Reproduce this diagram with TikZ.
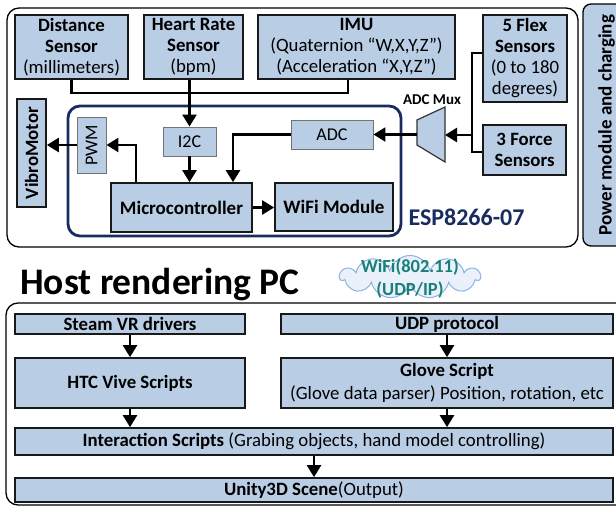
\documentclass[tikz,border=0pt]{standalone}
\usepackage{fontspec}
\setmainfont{Carlito}
\usepackage{graphicx}
\usetikzlibrary{arrows.meta,shapes.symbols,calc}

\definecolor{boxblue}{RGB}{185,205,229}
\definecolor{espnavy}{RGB}{24,44,96}
\definecolor{wifiteal}{RGB}{24,128,120}
\definecolor{cloudfill}{RGB}{234,241,251}
\definecolor{cloudline}{RGB}{140,178,225}

\tikzset{
  blk/.style={draw=black!90, line width=1.7pt, fill=boxblue, inner sep=0pt,
    align=center, font=\fontsize{18.8}{21}\selectfont},
  sub/.style={draw=black!55, line width=0.9pt, fill=boxblue, inner sep=0pt,
    align=center, font=\fontsize{18}{20}\selectfont},
  wire/.style={line width=2.4pt, draw=black},
  arr/.style={wire, -{Triangle[width=14pt,length=12pt]}},
  frame/.style={draw=black, line width=1.3pt, rounded corners=12pt},
}

\begin{document}
\begin{tikzpicture}[x=1pt,y=-1pt]
\useasboundingbox (0,0) rectangle (616,506);
\clip (0,0) rectangle (616,506);

% ---------------- glove hardware ----------------
\draw[frame] (7,8) rectangle (578,247);
\node[draw=black, line width=1.3pt, fill=boxblue, rounded corners=8pt,
      minimum width=47pt, minimum height=242pt, inner sep=0pt] (power) at (606.5,125)
      {\rotatebox{90}{\fontsize{19}{19}\selectfont\bfseries Power module and charging}};

\node[blk, minimum width=113pt, minimum height=64pt] (dist) at (71.5,47)
  {\textbf{Distance}\\\textbf{Sensor}\\(millimeters)};
\node[blk, minimum width=99pt, minimum height=64pt] (heart) at (193.5,47)
  {\textbf{Heart Rate}\\\textbf{Sensor}\\(bpm)};
\node[blk, minimum width=197pt, minimum height=64pt] (imu) at (356.5,47)
  {\textbf{IMU}\\(Quaternion “W,X,Y,Z”)\\(Acceleration “X,Y,Z”)};
\node[blk, minimum width=84pt, minimum height=87pt] (flex) at (525,58.5)
  {\textbf{5 Flex}\\\textbf{Sensors}\\(0 to 180\\degrees)};
\node[blk, minimum width=83pt, minimum height=50pt] (force) at (524.5,150)
  {\textbf{3 Force}\\\textbf{Sensors}};
\node[blk, minimum width=29pt, minimum height=108pt] (vibro) at (31.5,153)
  {\rotatebox{90}{\bfseries VibroMotor}};

% ESP8266 module
\draw[draw=espnavy, line width=2.8pt, rounded corners=12pt] (68,106) rectangle (401,236);
\node[anchor=west, font=\fontsize{24}{24}\selectfont\bfseries, text=espnavy] (esplabel)
  at (405,217) {ESP8266-07};

\node[sub, minimum width=29pt, minimum height=56pt] (pwm) at (91.5,145) {\rotatebox{90}{PWM}};
\node[sub, minimum width=53pt, minimum height=29pt] (i2c) at (189.5,141.5) {I2C};
\node[sub, minimum width=82pt, minimum height=29pt] (adc) at (332,134.5) {ADC};
\node[blk, minimum width=141pt, minimum height=49pt, font=\fontsize{19}{21}\selectfont\bfseries]
  (micro) at (181.5,207.5) {Microcontroller};
\node[blk, minimum width=118pt, minimum height=48pt, font=\fontsize{19}{21}\selectfont\bfseries]
  (wifi) at (334,207) {WiFi Module};

% ADC multiplexer
\draw[fill=boxblue, draw=black!80, line width=1.2pt]
  (417,120) -- (445,107) -- (445,162) -- (417,145) -- cycle;
\coordinate (muxL) at (417,134.5);
\coordinate (muxR) at (445,135);
\node[font=\fontsize{15}{15}\selectfont\bfseries] (muxlabel) at (432,100) {ADC Mux};

% sensor wiring
\coordinate (bus) at (348,93);
\draw[wire] (dist.south) |- (bus) -- (imu.south -| bus);
\draw[arr] (heart.south -| i2c.north) -- (i2c.north);
\draw[arr] (i2c.south) -- (i2c.south |- micro.north);
\draw[arr] (adc.west) -| ([xshift=51.5pt]micro.north);
\draw[arr] ([xshift=-45.5pt]micro.north) |- (pwm.east);
\draw[arr] (pwm.west) -- (pwm.west -| vibro.east);
\draw[arr] (micro.east) -- (micro.east -| wifi.west);
\draw[arr] (muxL) -- (adc.east |- muxL);
\coordinate (junc) at (472,135);
\draw[wire] ([yshift=5.5pt]flex.west) -| (junc);
\draw[wire] ([yshift=-2pt]force.west) -| (junc);
\draw[arr] (junc) -- (muxR);

% ---------------- host PC ----------------
\node[anchor=base west, font=\fontsize{37.5}{37.5}\selectfont\bfseries, inner sep=0pt]
  (host) at (20,294) {Host rendering PC};
\node[cloud, cloud puffs=11, aspect=3.3, draw=cloudline, fill=cloudfill, line width=1pt,
      minimum width=140pt, minimum height=43pt, inner sep=0pt] (cloud) at (410,277) {};
\node[align=center, text=wifiteal, font=\fontsize{18.5}{23}\selectfont\bfseries, inner sep=0pt]
  (cloudtxt) at (410,279) {WiFi(802.11)\\(UDP/IP)};

\draw[frame] (6,303) rectangle (640,505);
\node[blk, minimum width=230pt, minimum height=20pt] (steam) at (130,324) {\textbf{Steam VR drivers}};
\node[blk, minimum width=332pt, minimum height=20pt] (udp) at (447,324) {\textbf{UDP protocol}};
\node[blk, minimum width=230pt, minimum height=50pt] (htc) at (130,383) {\textbf{HTC Vive Scripts}};
\node[blk, minimum width=332pt, minimum height=50pt, font=\fontsize{18.8}{23}\selectfont] (glove) at (447,383)
  {\textbf{Glove Script}\\(Glove data parser) Position, rotation, etc};
\node[blk, minimum width=598pt, minimum height=27pt] (inter) at (314,441.5)
  {\textbf{Interaction Scripts} (Grabing objects, hand model controlling)};
\node[blk, minimum width=598pt, minimum height=24pt] (unity) at (314,490)
  {\textbf{Unity3D Scene}(Output)};

\draw[arr] (steam.south) -- (htc.north);
\draw[arr] (udp.south) -- (glove.north);
\draw[arr] (htc.south) -- (htc.south |- inter.north);
\draw[arr] (glove.south) -- (glove.south |- inter.north);
\draw[arr] (inter.south) -- (unity.north);
\end{tikzpicture}
\end{document}
